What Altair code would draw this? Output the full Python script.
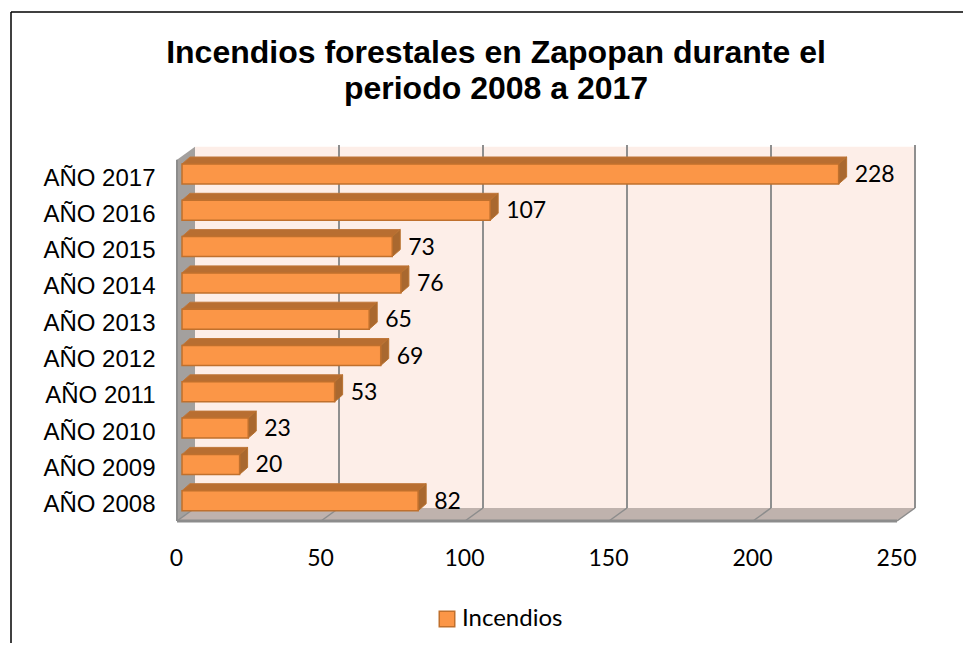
import altair as alt
import pandas as pd

years = ["AÑO 2008", "AÑO 2009", "AÑO 2010", "AÑO 2011", "AÑO 2012",
         "AÑO 2013", "AÑO 2014", "AÑO 2015", "AÑO 2016", "AÑO 2017"]
values = [82, 20, 23, 53, 69, 65, 76, 73, 107, 228]
ticks = [0, 50, 100, 150, 200, 250]
title_lines = ["Incendios forestales en Zapopan durante el", "periodo 2008 a 2017"]

# chart geometry (pixels)
W, H = 786, 376
PX_X = 2.88
PX_Y = 36.3
Y_MIN = -20.3 / PX_Y
Y_MAX = Y_MIN + H / PX_Y
ux = lambda px: px / PX_X      # horizontal pixels -> value units
uy = lambda px: px / PX_Y      # vertical pixels -> row units

WALL_X, WALL_Y = ux(18), uy(13)
BAR_IN = ux(5)
BAR_DX, BAR_DY = ux(8), uy(7)
BAR_H = uy(10)
WALL_TOP = Y_MAX - uy(1.7)

x_scale = alt.Scale(domain=[0, W / PX_X], nice=False, zero=False)
y_scale = alt.Scale(domain=[Y_MIN, Y_MAX], nice=False, zero=False)
X = alt.X("x:Q", scale=x_scale, title=None,
          axis=alt.Axis(values=ticks, grid=False, domain=False, ticks=False, labelFont="Lato",
                        labelFontSize=23, labelColor="#000000", labelPadding=26, labelFlush=False,
                        labelOffset=-1))
Y = alt.Y("y:Q", scale=y_scale, title=None,
          axis=alt.Axis(values=list(range(len(years))), grid=False, domain=False, ticks=False,
                        labelExpr="['" + "','".join(years) + "'][datum.value]",
                        labelFont="Liberation Sans", labelFontSize=24, labelColor="#000000",
                        labelPadding=22, labelOffset=4))

# back wall
wall = alt.Chart(pd.DataFrame({"x": [WALL_X], "x2": [250 + WALL_X], "y": [Y_MIN + WALL_Y], "y2": [WALL_TOP]})).mark_rect(
    color="#fdeee8").encode(x=X, x2="x2:Q", y=Y, y2="y2:Q")

# left wall
lw_top_front = WALL_TOP - WALL_Y
left_wall = alt.Chart(pd.DataFrame({
    "x": [0, WALL_X], "y": [Y_MIN, Y_MIN + WALL_Y], "y2": [lw_top_front, WALL_TOP]})).mark_area(
    color="#a3a09e", orient="vertical").encode(x=X, y=Y, y2="y2:Q")

# floor
floor = alt.Chart(pd.DataFrame({
    "y": [Y_MIN, Y_MIN + WALL_Y], "x": [0, WALL_X], "x2": [250, 250 + WALL_X]})).mark_area(
    color="#bfb2ad", orient="horizontal").encode(y=Y, x=X, x2="x2:Q")

# gridlines on the wall and across the floor
gridrule = alt.Chart(pd.DataFrame({
    "x": [t + WALL_X for t in ticks[1:]],
    "y": [Y_MIN + WALL_Y] * 5, "y2": [Y_MAX] * 5})).mark_rule(
    color="#8f8f8f", strokeWidth=2).encode(x=X, y=Y, y2="y2:Q")

diag = []
for t in ticks:
    diag += [{"t": t, "x": t, "y": Y_MIN}, {"t": t, "x": t + WALL_X, "y": Y_MIN + WALL_Y}]
griddiag = alt.Chart(pd.DataFrame(diag)).mark_line(color="#8c8c8c", strokeWidth=1.5).encode(
    x=X, y=Y, detail="t:N")

edge = alt.Chart(pd.DataFrame({"x": [0, 250], "y": [Y_MIN, Y_MIN]})).mark_line(
    color="#8c8c8c", strokeWidth=3).encode(x=X, y=Y)
left_edge = alt.Chart(pd.DataFrame({"x": [0, 0], "y": [Y_MIN, lw_top_front]})).mark_line(
    color="#8c8c8c", strokeWidth=2).encode(x=X, y=Y)

# bars
top_rows, side_rows, front_rows = [], [], []
for i, v in enumerate(values):
    x0, x1 = BAR_IN, BAR_IN + v
    yt, yb = i + BAR_H, i - BAR_H
    top_rows += [{"b": i, "y": yt, "x": x0, "x2": x1},
                 {"b": i, "y": yt + BAR_DY, "x": x0 + BAR_DX, "x2": x1 + BAR_DX}]
    side_rows += [{"b": i, "x": x1, "y": yb, "y2": yt},
                  {"b": i, "x": x1 + BAR_DX, "y": yb + BAR_DY, "y2": yt + BAR_DY}]
    front_rows.append({"x": x0, "x2": x1, "y": yb, "y2": yt, "serie": "Incendios",
                       "lx": x1 + BAR_DX + ux(8), "ly": i, "v": v})

top = alt.Chart(pd.DataFrame(top_rows)).mark_area(
    color="#b86e31", orient="horizontal", stroke="#c0773a", strokeWidth=1).encode(y=Y, x=X, x2="x2:Q", detail="b:N")
side = alt.Chart(pd.DataFrame(side_rows)).mark_area(
    color="#a9682f", orient="vertical", stroke="#b9722f", strokeWidth=1).encode(x=X, y=Y, y2="y2:Q", detail="b:N")
front_df = pd.DataFrame(front_rows)
front = alt.Chart(front_df).mark_rect(stroke="#c0702d", strokeWidth=1.5).encode(
    x=X, x2="x2:Q", y=Y, y2="y2:Q",
    color=alt.Color("serie:N", scale=alt.Scale(range=["#fb9647"]), title=None,
                    legend=alt.Legend(orient="none", legendX=258, legendY=462, padding=0,
                                      symbolType="square", symbolSize=240, symbolStrokeColor="#c0702d",
                                      symbolStrokeWidth=1.5, labelFont="Lato", labelFontSize=24,
                                      labelColor="#000000", labelOffset=3, labelLimit=200)))
labels = alt.Chart(front_df).mark_text(align="left", baseline="middle", font="Lato", fontSize=23, dy=1, color="#000000").encode(
    x=alt.X("lx:Q", scale=x_scale, title=None), y=alt.Y("ly:Q", scale=y_scale, title=None), text="v:Q")

# outer frame, left and top
frame_v = alt.Chart(pd.DataFrame({"a": [0]})).mark_rule(color="#000000", strokeWidth=1.5).encode(
    x=alt.value(-166), y=alt.value(-133), y2=alt.value(506))
frame_h = alt.Chart(pd.DataFrame({"a": [0]})).mark_rule(color="#000000", strokeWidth=1.5).encode(
    x=alt.value(-166), x2=alt.value(794), y=alt.value(-133))

title = alt.Chart(pd.DataFrame({"a": [0]})).mark_text(
    text=title_lines, font="Liberation Sans", fontWeight="bold", fontSize=32, lineHeight=35.5,
    align="center", baseline="middle", color="#000000").encode(
    x=alt.value(319), y=alt.value(-92))

chart = alt.layer(
    frame_v, frame_h, title, wall, left_wall, floor, gridrule, griddiag, edge, left_edge,
    top, side, front, labels).properties(
    width=W, height=H,
    padding={"left": 169, "top": 137, "right": 0, "bottom": 122},
    autosize=alt.AutoSizeParams(type="none"),
).configure_view(stroke=None)

chart.save("out.html", embed_options={"renderer": "svg", "actions": False})
